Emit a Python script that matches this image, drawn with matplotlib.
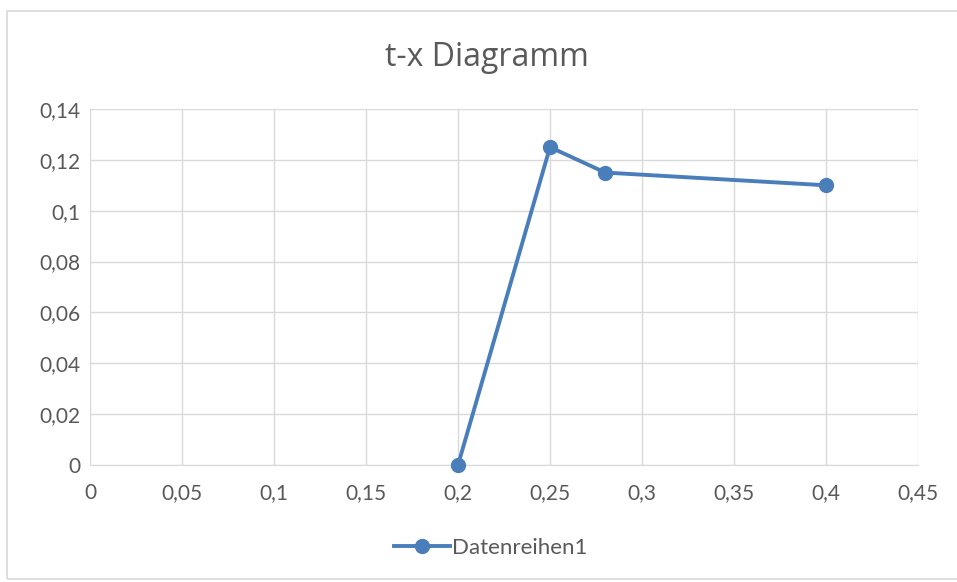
import matplotlib.pyplot as plt
from matplotlib.ticker import FuncFormatter, MultipleLocator
from matplotlib.patches import Rectangle

# data
t_values = [0.2, 0.25, 0.28, 0.4]
x_values = [0.0, 0.125, 0.115, 0.11]
series_name = 'Datenreihen1'
title = 't-x Diagramm'

plt.rcParams['font.family'] = ['Lato', 'DejaVu Sans']

W, H = 957, 582
fig = plt.figure(figsize=(W/100, H/100), dpi=100)

# light frame around the chart area (right edge runs off the image)
fig.patches.append(Rectangle((7/W, 1-579/H), 1.05, (579-11)/H, transform=fig.transFigure,
                             fill=False, edgecolor='#d9d9d9', linewidth=1.2))

ax = fig.add_axes([90/W, 1-465/H, 828/W, 356/H])

blue = '#4a7ebb'
grey = '#595959'
ax.plot(t_values, x_values, color=blue, linewidth=2.8, marker='o', markersize=10,
        label=series_name, clip_on=False, zorder=3)

ax.set_xlim(0, 0.45)
ax.set_ylim(0, 0.14)
ax.xaxis.set_major_locator(MultipleLocator(0.05))
ax.yaxis.set_major_locator(MultipleLocator(0.02))

fmt = FuncFormatter(lambda v, p: f'{round(v, 4):g}'.replace('.', ','))
ax.xaxis.set_major_formatter(fmt)
ax.yaxis.set_major_formatter(fmt)

ax.grid(True, color='#d9d9d9', linewidth=1)
ax.set_axisbelow(True)
for s in ['top', 'right', 'left']:
    ax.spines[s].set_visible(False)
ax.spines['bottom'].set_color('#d9d9d9')
ax.tick_params(length=0, labelsize=15, colors=grey, pad=13)
ax.tick_params(axis='y', pad=7)

fig.text(487/W, 1-58/H, title, ha='center', va='center', fontsize=23,
         color=grey, family=['Open Sans', 'DejaVu Sans'])

fig.legend(loc='center', bbox_to_anchor=(491/W, 1-548/H), frameon=False,
           fontsize=16, labelcolor=grey, handlelength=2.5, handletextpad=0.1)

fig.savefig('out.png', dpi=100)
